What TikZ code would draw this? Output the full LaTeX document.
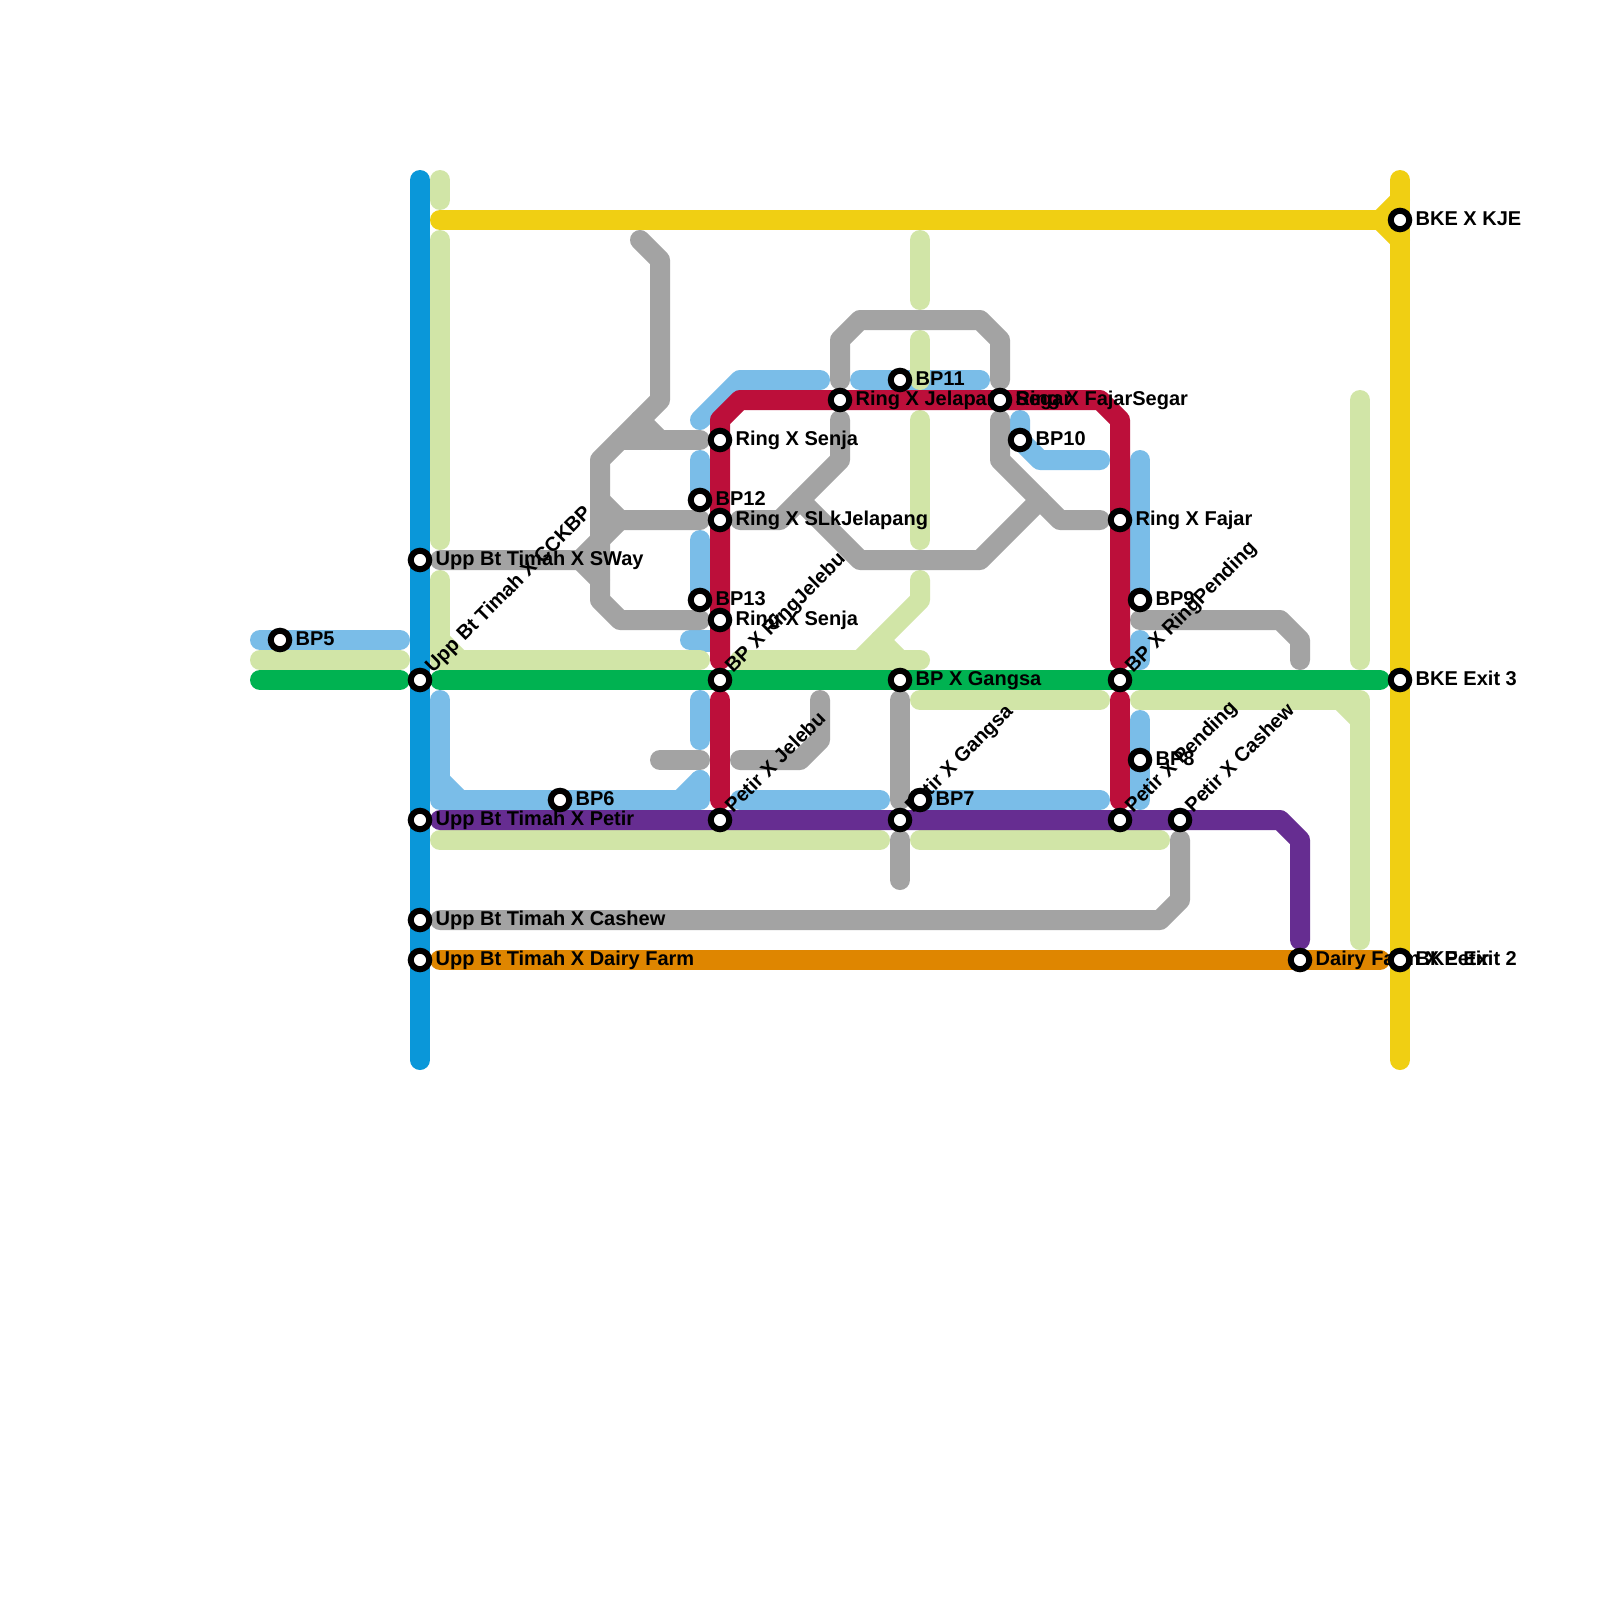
\documentclass[tikz,border=0pt]{standalone}
\usepackage{fontspec}
\setmainfont{Liberation Sans}
\definecolor{cDark}{HTML}{0A97D9}
\definecolor{cLight}{HTML}{7ABDE8}
\definecolor{cPale}{HTML}{D1E5A7}
\definecolor{cYellow}{HTML}{F0CF13}
\definecolor{cGreen}{HTML}{00B251}
\definecolor{cRed}{HTML}{BC0F3A}
\definecolor{cPurple}{HTML}{662D91}
\definecolor{cOrange}{HTML}{DF8600}
\definecolor{cGray}{HTML}{A3A3A3}
\tikzset{
  track/.style={line width=20pt,line cap=round,line join=round},
  lineDark/.style={track,draw=cDark},
  lineLight/.style={track,draw=cLight},
  linePale/.style={track,draw=cPale},
  lineYellow/.style={track,draw=cYellow},
  lineGreen/.style={track,draw=cGreen},
  lineRed/.style={track,draw=cRed},
  linePurple/.style={track,draw=cPurple},
  lineOrange/.style={track,draw=cOrange},
  lineGray/.style={track,draw=cGray},
  stn/.style={circle,draw=black,fill=white,line width=6pt,minimum size=18.5pt,inner sep=0pt,outer sep=0pt},
  lbl/.style={font=\fontsize{20pt}{21pt}\selectfont\bfseries,inner sep=0pt,text=black},
}
% station with a label on its right
\newcommand{\stH}[4]{%
  \node[stn] (#1) at (#2,#3) {};
  \node[lbl,anchor=base west] (#1-label) at ([shift={(15.5pt,-5.5pt)}]#1.center) {#4};
}
% station with a label rising at 45 degrees
\newcommand{\stD}[4]{%
  \node[lbl,anchor=base west,rotate=45] (#1-label) at ([shift={(13pt,6.5pt)}]#2pt,-#3pt) {#4};
  \node[stn] (#1) at (#2,#3) {};
}
\begin{document}
\begin{tikzpicture}[x=1pt,y=-1pt]
\useasboundingbox (0,0) rectangle (1600,1600);
\fill[white] (0,0) rectangle (1600,1600);

% light blue
\draw[lineLight] (260,640) -- (400,640);
\draw[lineLight] (440,700) -- (440,800) -- (700,800) -- (700,780);
\draw[lineLight] (440,780) -- (460,800);
\draw[lineLight] (680,800) -- (700,780);
\draw[lineLight] (700,700) -- (700,740);
\draw[lineLight] (740,800) -- (880,800);
\draw[lineLight] (920,800) -- (1100,800);
\draw[lineLight] (700,420) -- (740,380) -- (820,380);
\draw[lineLight] (860,380) -- (980,380);
\draw[lineLight] (700,460) -- (700,500);
\draw[lineLight] (700,540) -- (700,600);
\draw[lineLight] (690,640) -- (700,640);
\fill[cLight] (695,630) rectangle (711,652);
\draw[lineLight] (1020,420) -- (1020,440) -- (1040,460) -- (1100,460);
\draw[lineLight] (1140,460) -- (1140,600);
\draw[lineLight] (1140,640) -- (1140,660);
\draw[lineLight] (1140,720) -- (1140,800);

% pale green
\draw[linePale] (440,180) -- (440,200);
\draw[linePale] (440,240) -- (440,540);
\draw[linePale] (440,580) -- (440,660) -- (700,660);
\draw[linePale] (440,640) -- (460,660);
\draw[linePale] (260,660) -- (400,660);
\draw[linePale] (740,660) -- (920,660);
\draw[linePale] (880,640) -- (900,660);
\draw[linePale] (920,580) -- (920,600) -- (860,660);
\draw[linePale] (920,240) -- (920,300);
\draw[linePale] (920,340) -- (920,380);
\draw[linePale] (920,420) -- (920,540);
\draw[linePale] (920,700) -- (1100,700);
\draw[linePale] (1140,700) -- (1360,700) -- (1360,940);
\draw[linePale] (1340,700) -- (1360,720);
\draw[linePale] (1360,400) -- (1360,660);
\draw[linePale] (440,840) -- (880,840);
\draw[linePale] (920,840) -- (1160,840);

% grey
\draw[lineGray] (640,240) -- (660,260) -- (660,400) -- (600,460) -- (600,600) -- (620,620) -- (700,620);
\draw[lineGray] (620,440) -- (700,440);
\draw[lineGray] (640,420) -- (660,440);
\draw[lineGray] (600,500) -- (620,520) -- (700,520);
\draw[lineGray] (600,540) -- (620,520);
\draw[lineGray] (440,560) -- (580,560) -- (600,540);
\draw[lineGray] (580,560) -- (600,580);
\draw[lineGray] (660,760) -- (700,760);
\draw[lineGray] (820,700) -- (820,740) -- (800,760) -- (740,760);
\draw[lineGray] (840,380) -- (840,340) -- (860,320) -- (980,320) -- (1000,340) -- (1000,380);
\draw[lineGray] (840,420) -- (840,460) -- (780,520) -- (740,520);
\draw[lineGray] (800,500) -- (860,560) -- (980,560) -- (1040,500);
\draw[lineGray] (1000,420) -- (1000,460) -- (1060,520) -- (1100,520);
\draw[lineGray] (1140,620) -- (1280,620) -- (1300,640) -- (1300,660);
\draw[lineGray] (900,700) -- (900,800);
\draw[lineGray] (900,840) -- (900,880);
\draw[lineGray] (1180,840) -- (1180,900) -- (1160,920) -- (440,920);

% orange, purple, green
\draw[lineOrange] (440,960) -- (1380,960);
\draw[linePurple] (440,820) -- (1280,820) -- (1300,840) -- (1300,940);
\draw[lineGreen] (260,680) -- (400,680);
\draw[lineGreen] (440,680) -- (1380,680);

% red
\draw[lineRed] (720,660) -- (720,420) -- (740,400) -- (1100,400) -- (1120,420) -- (1120,660);
\draw[lineRed] (720,700) -- (720,800);
\draw[lineRed] (1120,700) -- (1120,800);

% yellow
\draw[lineYellow] (440,220) -- (1380,220);
\draw[lineYellow] (1400,180) -- (1400,1060);
\draw[lineYellow] (1380,220) -- (1400,200);
\draw[lineYellow] (1380,220) -- (1400,240);

% dark blue
\draw[lineDark] (420,180) -- (420,1060);

% stations
\stH{bpfive}{280}{640}{BP5}
\stH{uSway}{420}{560}{Upp Bt Timah X SWay}
\stD{uCckbp}{420}{680}{Upp Bt Timah X CCKBP}
\stH{uPetir}{420}{820}{Upp Bt Timah X Petir}
\stH{uCashew}{420}{920}{Upp Bt Timah X Cashew}
\stH{uDairy}{420}{960}{Upp Bt Timah X Dairy Farm}
\stH{bpsix}{560}{800}{BP6}
\stH{bptwelve}{700}{500}{BP12}
\stH{bpthirteen}{700}{600}{BP13}
\stH{rSenjaA}{720}{440}{Ring X Senja}
\stH{rSlk}{720}{520}{Ring X SLkJelapang}
\stH{rSenjaB}{720}{620}{Ring X Senja}
\stD{bRing}{720}{680}{BP X RingJelebu}
\stD{pJelebu}{720}{820}{Petir X Jelebu}
\stH{bGangsa}{900}{680}{BP X Gangsa}
\stD{pGangsa}{900}{820}{Petir X Gangsa}
\stH{bpseven}{920}{800}{BP7}
\stH{bpeleven}{900}{380}{BP11}
\stH{rJelapang}{840}{400}{Ring X Jelapang}
\stH{rSegar}{1000}{400}{Ring X FajarSegar}
\node[lbl,anchor=base west] (rSegar-second) at ([shift={(15.5pt,-5.5pt)}]rSegar.center) {Segar};
\stH{bpten}{1020}{440}{BP10}
\stH{rFajar}{1120}{520}{Ring X Fajar}
\stH{bpnine}{1140}{600}{BP9}
\stD{bPending}{1120}{680}{BP X RingPending}
\stH{bpeight}{1140}{760}{BP8}
\stD{pPending}{1120}{820}{Petir X Pending}
\stD{pCashew}{1180}{820}{Petir X Cashew}
\stH{dPetir}{1300}{960}{Dairy Farm X Petir}
\stH{bKje}{1400}{220}{BKE X KJE}
\stH{bExitT}{1400}{680}{BKE Exit 3}
\stH{bExitD}{1400}{960}{BKE Exit 2}
\end{tikzpicture}
\end{document}
